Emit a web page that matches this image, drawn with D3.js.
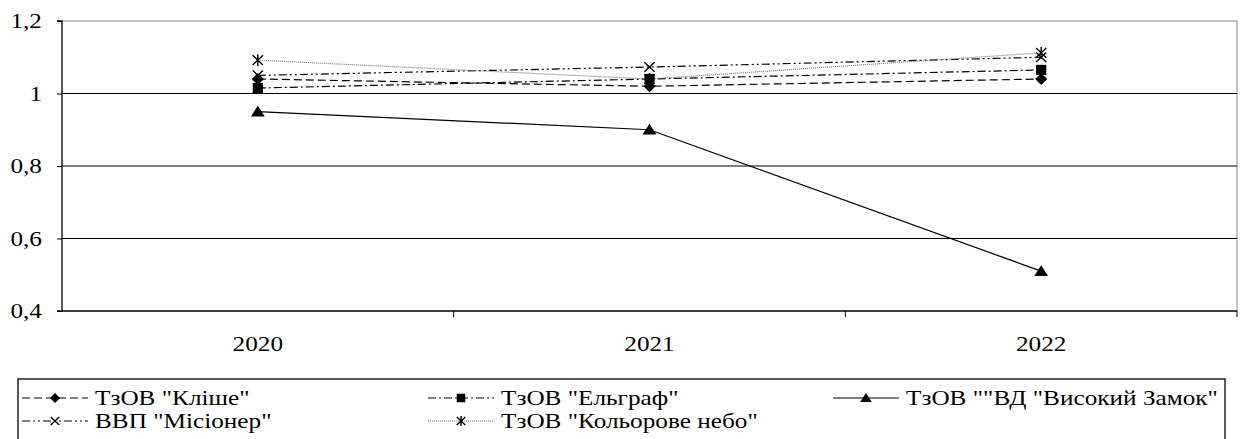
<!DOCTYPE html>
<html>
<head>
<script src="https://cdn.jsdelivr.net/npm/d3@7"></script>
</head>
<body style="margin:0; background:#fff; font-family:'Liberation Serif', serif">
<div id="chart"></div>
<script>
// data
const years = ["2020", "2021", "2022"];
const seriesNames = ['ТзОВ "Кліше"', 'ТзОВ "Ельграф"', 'ТзОВ ""ВД "Високий Замок"', 'ВВП "Місіонер"', 'ТзОВ "Кольорове небо"'];
const klishe = [1.04, 1.02, 1.04];
const elgraf = [1.015, 1.04, 1.065];
const zamok = [0.95, 0.90, 0.51];
const misioner = [1.05, 1.073, 1.10];
const nebo = [1.092, 1.04, 1.112];
const yTicks = [0.4, 0.6, 0.8, 1, 1.2];

const FONT = "Liberation Serif";
const FONT_SIZE = 21;

const styles = [
  { dash: "8,4", color: "#000", width: 1.2, marker: "diamond" },
  { dash: "8,3,2,3", color: "#000", width: 1.2, marker: "square" },
  { dash: null, color: "#000", width: 1.2, marker: "triangle" },
  { dash: "8,3,2,3,2,3", color: "#000", width: 1.2, marker: "x" },
  { dash: "1,1", color: "#777", width: 1.2, marker: "star" }
];
const allValues = [klishe, elgraf, zamok, misioner, nebo];
const series = seriesNames.map((name, i) => ({ name: name, values: allValues[i], style: styles[i] }));

const W = 1240, H = 439;
const margin = { LEFT: 62, RIGHT: 3, TOP: 21, BOTTOM: 128 };
const width = W - margin.LEFT - margin.RIGHT;
const height = H - margin.TOP - margin.BOTTOM;

const svg = d3.select("#chart").append("svg")
  .attr("width", W)
  .attr("height", H)
  .attr("font-family", FONT)
  .style("font-family", FONT);

const g = svg.append("g")
  .attr("transform", `translate(${margin.LEFT}, ${margin.TOP})`);

const x = d3.scaleBand().domain(years).range([0, width]);
const y = d3.scaleLinear().domain([0.4, 1.2]).range([height, 0]);

// plot frame (right and top edges)
g.append("line").attr("x1", 0).attr("x2", width).attr("y1", 0).attr("y2", 0)
  .attr("stroke", "#888").attr("stroke-width", 1);
g.append("line").attr("x1", width).attr("x2", width).attr("y1", 0).attr("y2", height)
  .attr("stroke", "#888").attr("stroke-width", 1);

// gridlines
g.selectAll(".grid").data(yTicks.filter(d => d > 0.4 && d < 1.2)).enter().append("line")
  .attr("class", "grid")
  .attr("x1", 0).attr("x2", width)
  .attr("y1", d => y(d)).attr("y2", d => y(d))
  .attr("stroke", "#000").attr("stroke-width", 1);

// Y axis
const yAxisCall = d3.axisLeft(y).tickValues(yTicks).tickSize(5)
  .tickFormat(d => d === 1 ? "1" : d3.format(".1f")(d).replace(".", ","));
const yAxisGroup = g.append("g").call(yAxisCall)
  .attr("font-family", FONT).attr("font-size", FONT_SIZE);
yAxisGroup.select(".domain").attr("stroke", "#000").attr("stroke-width", 1.3).attr("d", `M-5,${height}H0V0H-5`);
yAxisGroup.selectAll(".tick line").attr("stroke", "#000");
const yLabels = yAxisGroup.selectAll("text").attr("fill", "#000");

// X axis
const xAxisCall = d3.axisBottom(x).tickSize(0);
const xAxisGroup = g.append("g").attr("transform", `translate(0, ${height})`).call(xAxisCall)
  .attr("font-family", FONT).attr("font-size", FONT_SIZE);
xAxisGroup.select(".domain").attr("stroke", "#000").attr("stroke-width", 1.3).attr("d", `M0,0H${width}`);
const xLabels = xAxisGroup.selectAll("text").attr("fill", "#000").attr("y", 40).attr("dy", 0);
// category boundary ticks
xAxisGroup.selectAll(".bound").data(years).enter().append("line")
  .attr("class", "bound")
  .attr("x1", d => x(d) + x.bandwidth()).attr("x2", d => x(d) + x.bandwidth())
  .attr("y1", 0).attr("y2", 6)
  .attr("stroke", "#000").attr("stroke-width", 1);

const line = d3.line()
  .x((d, i) => x(years[i]) + x.bandwidth() / 2)
  .y(d => y(d));

function drawMarker(sel, type, size) {
  const s = size;
  if (type === "diamond") {
    sel.append("path").attr("d", `M0,${-s}L${s},0L0,${s}L${-s},0Z`).attr("fill", "#000");
  } else if (type === "square") {
    sel.append("rect").attr("x", -s * 0.85).attr("y", -s * 0.85).attr("width", s * 1.7).attr("height", s * 1.7).attr("fill", "#000");
  } else if (type === "triangle") {
    sel.append("path").attr("d", `M0,${-s}L${s * 1.15},${s * 0.8}L${-s * 1.15},${s * 0.8}Z`).attr("fill", "#000");
  } else if (type === "x") {
    sel.append("path").attr("d", `M${-s * 0.85},${-s * 0.8}L${s * 0.85},${s * 0.8}M${s * 0.85},${-s * 0.8}L${-s * 0.85},${s * 0.8}`)
      .attr("stroke", "#000").attr("stroke-width", 1.4);
  } else if (type === "star") {
    sel.append("path").attr("d", `M${-s * 0.85},${-s * 0.8}L${s * 0.85},${s * 0.8}M${s * 0.85},${-s * 0.8}L${-s * 0.85},${s * 0.8}M0,${-s}V${s}`)
      .attr("stroke", "#000").attr("stroke-width", 1.4);
  }
}

// lines
series.forEach(sr => {
  g.append("path")
    .datum(sr.values)
    .attr("fill", "none")
    .attr("stroke", sr.style.color)
    .attr("stroke-width", sr.style.width)
    .attr("stroke-dasharray", sr.style.dash)
    .attr("d", line);
});

// markers
series.forEach(sr => {
  sr.values.forEach((v, i) => {
    const m = g.append("g")
      .attr("transform", `translate(${x(years[i]) + x.bandwidth() / 2}, ${y(v)})`);
    drawMarker(m, sr.style.marker, 6);
  });
});

// legend
const legend = svg.append("g").attr("transform", "translate(18, 379)");
legend.append("rect")
  .attr("x", 0).attr("y", 0).attr("width", 1207).attr("height", 70)
  .attr("fill", "none").attr("stroke", "#000").attr("stroke-width", 1.3);

const legendPos = [[4, 19], [410, 19], [815, 19], [4, 42], [410, 42]];
const legendTexts = [];
series.forEach((sr, i) => {
  const [lx, ly] = legendPos[i];
  const item = legend.append("g").attr("transform", `translate(${lx}, ${ly})`);
  item.append("line")
    .attr("x1", 0).attr("x2", 66).attr("y1", 0).attr("y2", 0)
    .attr("stroke", sr.style.color)
    .attr("stroke-width", sr.style.width)
    .attr("stroke-dasharray", sr.style.dash);
  const m = item.append("g").attr("transform", "translate(33, 0)");
  drawMarker(m, sr.style.marker, 5);
  legendTexts.push(item.append("text")
    .attr("y", 7)
    .attr("font-family", FONT)
    .attr("font-size", FONT_SIZE)
    .attr("fill", "#000")
    .text(sr.name));
});

// the source picture is widened horizontally: fit the longest legend label to its width there
function applyStretch() {
  const longest = legendTexts[2].attr("transform", null).node().getComputedTextLength();
  const k = longest > 0 ? 312 / longest : 1.25;
  legendTexts.forEach(t => t.attr("x", 73 / k).attr("transform", `scale(${k},1)`));
  yLabels.attr("x", -20 / k).attr("transform", `scale(${k},1)`);
  xLabels.attr("transform", `scale(${k},1)`);
}
applyStretch();
if (document.fonts && document.fonts.ready) document.fonts.ready.then(applyStretch);
</script>
</body>
</html>
